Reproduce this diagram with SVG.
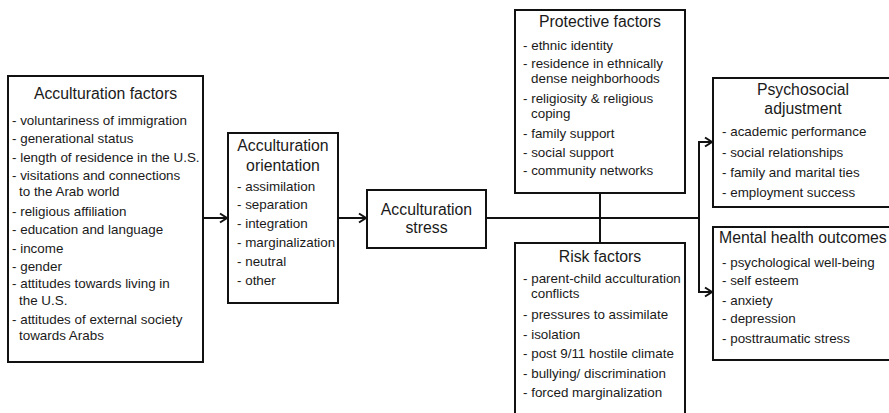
<svg xmlns="http://www.w3.org/2000/svg" width="889" height="413" viewBox="0 0 889 413">
<style>
.box{fill:#fff;stroke:#111;stroke-width:2}
text{font-family:"Liberation Sans",Arial,sans-serif;fill:#1a1a1a}
.t{font-size:15.8px;text-anchor:middle}
.i{font-size:13.4px}
.c{fill:none;stroke:#111;stroke-width:2}
</style>
<defs>
<marker id="arr" markerUnits="userSpaceOnUse" markerWidth="12" markerHeight="12" refX="10" refY="6" orient="auto">
<path d="M3,1.5 L10,6 L3,10.5" fill="none" stroke="#111" stroke-width="2"/>
</marker>
</defs>
<rect width="889" height="413" fill="#fff"/>
<g id="connectors">
<line class="c" x1="203" y1="218" x2="227" y2="218" marker-end="url(#arr)"/>
<line class="c" x1="338" y1="218" x2="366" y2="218" marker-end="url(#arr)"/>
<line class="c" x1="486" y1="218" x2="700" y2="218"/>
<line class="c" x1="600" y1="193" x2="600" y2="243"/>
<line class="c" x1="699" y1="141" x2="699" y2="293"/>
<line class="c" x1="698" y1="142" x2="712" y2="142" marker-end="url(#arr)"/>
<line class="c" x1="698" y1="292" x2="712" y2="292" marker-end="url(#arr)"/>
</g>
<g id="acculturation-factors">
<rect class="box" x="8" y="76" width="195" height="286"/>
<text class="t" x="105.5" y="99">Acculturation factors</text>
<text class="i" x="12" y="125">- voluntariness of immigration</text>
<text class="i" x="12" y="143">- generational status</text>
<text class="i" x="12" y="162">- length of residence in the U.S.</text>
<text class="i" x="12" y="180">- visitations and connections</text>
<text class="i" x="19" y="196">to the Arab world</text>
<text class="i" x="12" y="216">- religious affiliation</text>
<text class="i" x="12" y="234">- education and language</text>
<text class="i" x="12" y="253">- income</text>
<text class="i" x="12" y="271">- gender</text>
<text class="i" x="12" y="288">- attitudes towards living in</text>
<text class="i" x="19" y="305">the U.S.</text>
<text class="i" x="12" y="324">- attitudes of external society</text>
<text class="i" x="19" y="340">towards Arabs</text>
</g>
<g id="acculturation-orientation">
<rect class="box" x="228" y="133" width="110" height="170"/>
<text class="t" x="283" y="151">Acculturation</text>
<text class="t" x="283" y="171">orientation</text>
<text class="i" x="237" y="191">- assimilation</text>
<text class="i" x="237" y="209">- separation</text>
<text class="i" x="237" y="228">- integration</text>
<text class="i" x="237" y="247">- marginalization</text>
<text class="i" x="237" y="266">- neutral</text>
<text class="i" x="237" y="285">- other</text>
</g>
<g id="acculturation-stress">
<rect class="box" x="367" y="190" width="119" height="58"/>
<text class="t" x="426.5" y="215">Acculturation</text>
<text class="t" x="426.5" y="233">stress</text>
</g>
<g id="protective-factors">
<rect class="box" x="515" y="10" width="170" height="183"/>
<text class="t" x="600" y="27">Protective factors</text>
<text class="i" x="523" y="50">- ethnic identity</text>
<text class="i" x="523" y="68">- residence in ethnically</text>
<text class="i" x="531" y="83">dense neighborhoods</text>
<text class="i" x="523" y="103">- religiosity &amp; religious</text>
<text class="i" x="531" y="118">coping</text>
<text class="i" x="523" y="138">- family support</text>
<text class="i" x="523" y="157">- social support</text>
<text class="i" x="523" y="175">- community networks</text>
</g>
<g id="risk-factors">
<rect class="box" x="515" y="243" width="170" height="190"/>
<text class="t" x="600" y="262">Risk factors</text>
<text class="i" x="523" y="283">- parent-child acculturation</text>
<text class="i" x="531" y="298">conflicts</text>
<text class="i" x="523" y="319">- pressures to assimilate</text>
<text class="i" x="523" y="339">- isolation</text>
<text class="i" x="523" y="358">- post 9/11 hostile climate</text>
<text class="i" x="523" y="378">- bullying/ discrimination</text>
<text class="i" x="523" y="397">- forced marginalization</text>
</g>
<g id="psychosocial-adjustment">
<rect class="box" x="713" y="78" width="185" height="129"/>
<text class="t" x="803" y="95">Psychosocial</text>
<text class="t" x="803" y="114">adjustment</text>
<text class="i" x="722" y="136">- academic performance</text>
<text class="i" x="722" y="157">- social relationships</text>
<text class="i" x="722" y="177">- family and marital ties</text>
<text class="i" x="722" y="197">- employment success</text>
</g>
<g id="mental-health-outcomes">
<rect class="box" x="713" y="227" width="185" height="133"/>
<text class="t" x="719" y="243" style="text-anchor:start">Mental health outcomes</text>
<text class="i" x="722" y="267">- psychological well-being</text>
<text class="i" x="722" y="285">- self esteem</text>
<text class="i" x="722" y="305">- anxiety</text>
<text class="i" x="722" y="323">- depression</text>
<text class="i" x="722" y="343">- posttraumatic stress</text>
</g>
</svg>
